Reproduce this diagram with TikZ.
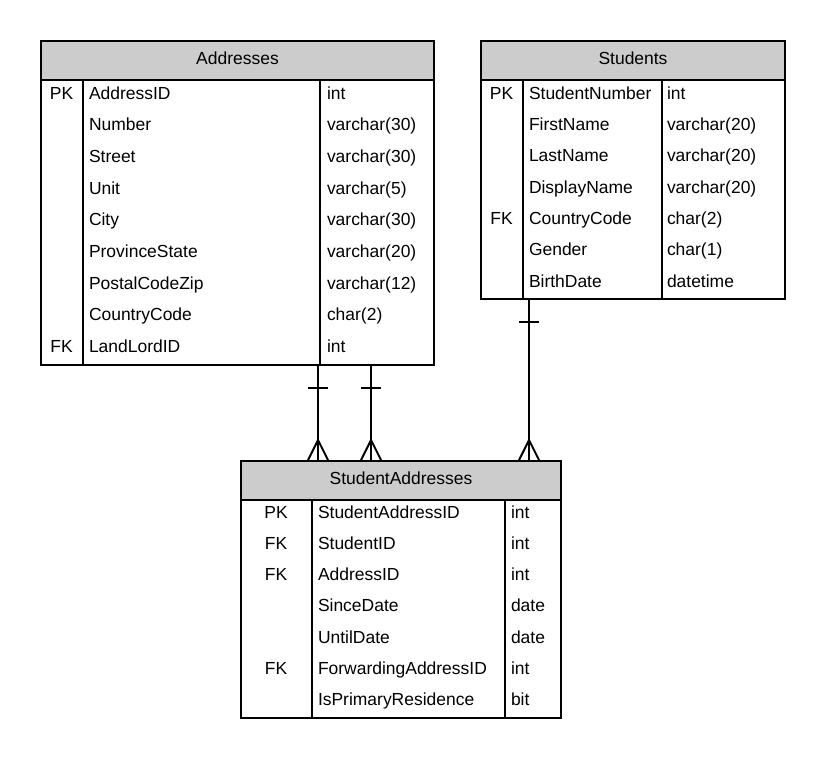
\documentclass[tikz,border=0pt]{standalone}
\usepackage{fontspec}
\setmainfont{Liberation Sans}
\definecolor{headGray}{gray}{0.8}
\definecolor{mainBlack}{gray}{0.0}

\begin{document}
\begin{tikzpicture}[x=0.75pt, y=-0.75pt, line width=1.5pt, draw=mainBlack,
    tablehead/.style={draw, fill=headGray, anchor=north west, inner sep=0pt, minimum height=39*0.75pt, text height=9.5pt, text depth=3.8pt, font=\fontsize{13.1}{15}\selectfont},
    tablebody/.style={draw, anchor=north west, inner sep=0pt},
    cell/.style={inner sep=0pt, font=\fontsize{13.1}{15}\selectfont}]
    \useasboundingbox (0,0) rectangle (824,758);

    % Addresses
    \node[tablehead, minimum width=393*0.75pt] (addrhead) at (40,40) {Addresses};
    \node[tablebody, minimum width=393*0.75pt, minimum height=285*0.75pt] (addrbody) at (40,79) {};
    \draw (83,79) -- (83,364);
    \draw (320,79) -- (320,364);
    \foreach \key/\name/\type [count=\i] in {PK/AddressID/int, /Number/varchar(30), /Street/varchar(30), /Unit/varchar(5), /City/varchar(30), /ProvinceState/varchar(20), /PostalCodeZip/varchar(12), /CountryCode/char(2), FK/LandLordID/int} {
        \node[cell, anchor=base] (addr-key-\i) at (61.5,{99+(\i-1)*31.67}) {\key};
        \node[cell, anchor=base west] (addr-name-\i) at (88,{99+(\i-1)*31.67}) {\name};
        \node[cell, anchor=base west] (addr-type-\i) at (326,{99+(\i-1)*31.67}) {\type};
    }

    % Students
    \node[tablehead, minimum width=304*0.75pt] (stuhead) at (480,40) {Students};
    \node[tablebody, minimum width=304*0.75pt, minimum height=219*0.75pt] (stubody) at (480,79) {};
    \draw (523,79) -- (523,298);
    \draw (662,79) -- (662,298);
    \foreach \key/\name/\type [count=\i] in {PK/StudentNumber/int, /FirstName/varchar(20), /LastName/varchar(20), /DisplayName/varchar(20), FK/CountryCode/char(2), /Gender/char(1), /BirthDate/datetime} {
        \node[cell, anchor=base] (stu-key-\i) at (501.5,{99.3+(\i-1)*31.29}) {\key};
        \node[cell, anchor=base west] (stu-name-\i) at (528,{99.3+(\i-1)*31.29}) {\name};
        \node[cell, anchor=base west] (stu-type-\i) at (666,{99.3+(\i-1)*31.29}) {\type};
    }

    % StudentAddresses
    \node[tablehead, minimum width=320*0.75pt] (sahead) at (240,460) {StudentAddresses};
    \node[tablebody, minimum width=320*0.75pt, minimum height=218*0.75pt] (sabody) at (240,499) {};
    \draw (312,499) -- (312,717);
    \draw (505,499) -- (505,717);
    \foreach \key/\name/\type [count=\i] in {PK/StudentAddressID/int, FK/StudentID/int, FK/AddressID/int, /SinceDate/date, /UntilDate/date, FK/ForwardingAddressID/int, /IsPrimaryResidence/bit} {
        \node[cell, anchor=base] (sa-key-\i) at (276,{518.5+(\i-1)*31.14}) {\key};
        \node[cell, anchor=base west] (sa-name-\i) at (317,{518.5+(\i-1)*31.14}) {\name};
        \node[cell, anchor=base west] (sa-type-\i) at (510,{518.5+(\i-1)*31.14}) {\type};
    }

    % Relations: one (bar) to many (crow's foot)
    \foreach \from/\x in {addrbody/318, addrbody/371, stubody/529} {
        \draw (\from.south -| \x,0) -- (sahead.north -| \x,0);
        \draw (\from.south -| \x,0) ++(-10,22) -- ++(20,0);
        \draw (sahead.north -| \x,0) ++(-10,0) -- ++(10,-20) -- ++(10,20);
    }
\end{tikzpicture}
\end{document}
